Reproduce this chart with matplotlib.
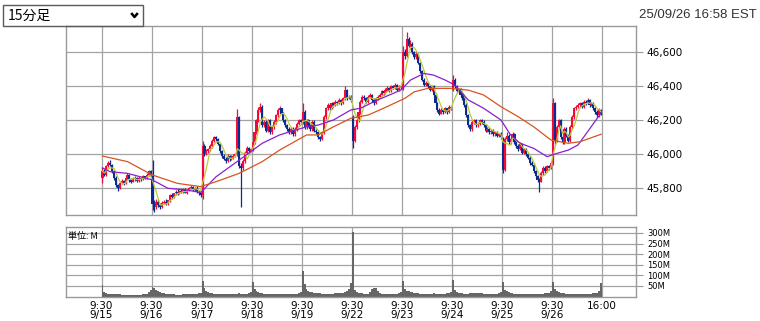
import numpy as np
import pandas as pd
import matplotlib
matplotlib.use("Agg")
import matplotlib.pyplot as plt
from matplotlib.patches import Rectangle
from matplotlib.lines import Line2D

days = ["9/15", "9/16", "9/17", "9/18", "9/19", "9/22", "9/23", "9/24", "9/25", "9/26"]
bars_per_day = 26  # 15-minute bars, 9:30-16:00

# first open of each session (other opens = previous close)
day_open = [45860, 45870, 45760, 46030, 46190, 46220, 46390, 46380, 46090, 45950]

close = [
    45900, 45880, 45930, 45950, 45940, 45900, 45860, 45820, 45800, 45830, 45845, 45830, 45860,
    45880, 45850, 45840, 45855, 45860, 45845, 45860, 45855, 45870, 45860, 45880, 45900, 45870,
    45710, 45690, 45720, 45700, 45690, 45715, 45720, 45710, 45730, 45760, 45750, 45770, 45780,
    45770, 45785, 45780, 45790, 45775, 45790, 45800, 45810, 45790, 45800, 45780, 45770, 45760,
    46050, 46000, 46020, 46030, 46050, 46080, 46100, 46090, 46060, 46020, 45990, 45975, 45960,
    45990, 45970, 45985, 45990, 46000, 46220, 45930, 45920, 45960, 46010, 46040, 46020, 46030,
    46070, 46130, 46200, 46260, 46280, 46170, 46190, 46140, 46200, 46130, 46160, 46190, 46230,
    46260, 46270, 46240, 46200, 46170, 46150, 46130, 46150, 46120, 46150, 46180, 46200, 46190,
    46250, 46160, 46200, 46170, 46150, 46190, 46140, 46130, 46100, 46090, 46130, 46220, 46270,
    46290, 46270, 46300, 46290, 46310, 46300, 46320, 46300, 46330, 46380, 46330, 46340, 46320,
    46080, 46160, 46200, 46250, 46310, 46340, 46330, 46310, 46340, 46350, 46320, 46300, 46330,
    46340, 46350, 46370, 46360, 46380, 46390, 46370, 46400, 46390, 46410, 46380, 46400, 46390,
    46600, 46580, 46680, 46640, 46650, 46600, 46570, 46590, 46540, 46490, 46440, 46410, 46420,
    46400, 46380, 46400, 46350, 46300, 46260, 46240, 46260, 46250, 46270, 46250, 46280, 46270,
    46440, 46400, 46370, 46380, 46350, 46330, 46290, 46230, 46170, 46150, 46190, 46200, 46170,
    46180, 46200, 46190, 46170, 46140, 46150, 46130, 46140, 46120, 46130, 46110, 46120, 46100,
    45910, 46090, 46110, 46070, 46090, 46120, 46070, 46050, 46030, 46060, 46010, 46030, 46000,
    45980, 45950, 45940, 45900, 45870, 45850, 45840, 45890, 45920, 45900, 45930, 45920, 45950,
    46300, 46080, 46160, 46200, 46100, 46070, 46150, 46110, 46080, 46160, 46220, 46270, 46280,
    46290, 46300, 46280, 46310, 46300, 46320, 46290, 46300, 46270, 46250, 46230, 46260, 46240,
]

high = [
    45925, 45915, 45940, 45960, 45965, 45945, 45905, 45870, 45825, 45840, 45855, 45850, 45870,
    45890, 45885, 45860, 45865, 45870, 45865, 45870, 45865, 45880, 45875, 45890, 45910, 45905,
    45966, 45730, 45735, 45730, 45715, 45725, 45730, 45735, 45725, 45765, 45770, 45775, 45790,
    45795, 45790, 45795, 45800, 45800, 45795, 45810, 45820, 45815, 45810, 45815, 45790, 45780,
    46080, 46060, 46030, 46040, 46060, 46090, 46110, 46105, 46095, 46065, 46025, 46000, 45985,
    46000, 45995, 45995, 46000, 46010, 46265, 46225, 45950, 45970, 46020, 46050, 46045, 46040,
    46080, 46140, 46210, 46280, 46300, 46290, 46200, 46200, 46210, 46210, 46170, 46200, 46240,
    46270, 46285, 46275, 46250, 46210, 46180, 46160, 46160, 46160, 46160, 46190, 46210, 46210,
    46300, 46260, 46210, 46210, 46180, 46200, 46200, 46150, 46140, 46110, 46140, 46230, 46280,
    46300, 46295, 46310, 46305, 46320, 46315, 46330, 46325, 46340, 46400, 46385, 46350, 46350,
    46230, 46170, 46210, 46260, 46320, 46350, 46350, 46340, 46350, 46360, 46355, 46330, 46340,
    46350, 46360, 46380, 46375, 46390, 46400, 46395, 46410, 46405, 46420, 46415, 46410, 46405,
    46640, 46620, 46720, 46690, 46670, 46660, 46610, 46600, 46595, 46545, 46495, 46450, 46430,
    46425, 46410, 46410, 46405, 46360, 46310, 46270, 46270, 46265, 46280, 46275, 46290, 46285,
    46465, 46450, 46410, 46390, 46390, 46360, 46340, 46300, 46240, 46180, 46200, 46210, 46210,
    46190, 46210, 46210, 46200, 46180, 46160, 46160, 46150, 46150, 46140, 46140, 46125, 46130,
    46100, 46100, 46130, 46120, 46100, 46130, 46125, 46080, 46060, 46070, 46065, 46040, 46040,
    46010, 45990, 45960, 45950, 45910, 45880, 45860, 45900, 45930, 45930, 45940, 45940, 45960,
    46330, 46310, 46170, 46210, 46210, 46110, 46160, 46160, 46120, 46170, 46230, 46280, 46290,
    46300, 46310, 46310, 46320, 46320, 46330, 46325, 46310, 46305, 46280, 46260, 46270, 46265,
]

low = [
    45830, 45870, 45870, 45925, 45930, 45890, 45850, 45810, 45785, 45795, 45825, 45820, 45825,
    45850, 45840, 45830, 45835, 45845, 45835, 45840, 45845, 45850, 45855, 45855, 45875, 45860,
    45670, 45660, 45680, 45690, 45680, 45685, 45705, 45700, 45700, 45720, 45740, 45745, 45760,
    45760, 45765, 45770, 45775, 45770, 45765, 45785, 45795, 45785, 45785, 45775, 45760, 45750,
    45740, 45990, 45995, 46010, 46020, 46040, 46070, 46080, 46055, 46010, 45980, 45965, 45950,
    45955, 45960, 45965, 45975, 45985, 45990, 45920, 45690, 45910, 45950, 46000, 46010, 46015,
    46020, 46060, 46120, 46190, 46250, 46160, 46160, 46130, 46130, 46120, 46120, 46150, 46180,
    46220, 46250, 46230, 46190, 46160, 46140, 46120, 46120, 46110, 46110, 46140, 46170, 46180,
    46180, 46150, 46150, 46160, 46140, 46140, 46130, 46120, 46090, 46080, 46085, 46120, 46210,
    46260, 46260, 46265, 46280, 46285, 46290, 46295, 46290, 46295, 46320, 46320, 46325, 46310,
    46035, 46070, 46150, 46190, 46240, 46300, 46320, 46300, 46300, 46330, 46310, 46290, 46295,
    46320, 46335, 46345, 46350, 46355, 46375, 46365, 46365, 46385, 46385, 46375, 46375, 46385,
    46380, 46560, 46570, 46630, 46620, 46590, 46560, 46560, 46530, 46480, 46430, 46400, 46400,
    46390, 46370, 46370, 46340, 46290, 46250, 46230, 46235, 46240, 46245, 46240, 46245, 46260,
    46370, 46390, 46360, 46360, 46340, 46320, 46280, 46220, 46160, 46135, 46140, 46180, 46160,
    46160, 46170, 46180, 46160, 46130, 46130, 46120, 46120, 46110, 46110, 46100, 46100, 46090,
    45890, 45900, 46080, 46060, 46060, 46080, 46060, 46040, 46020, 46025, 46000, 46000, 45990,
    45970, 45940, 45930, 45890, 45860, 45840, 45780, 45835, 45880, 45890, 45895, 45910, 45915,
    45940, 46060, 46070, 46150, 46090, 46060, 46060, 46100, 46070, 46075, 46150, 46210, 46260,
    46275, 46280, 46270, 46270, 46290, 46295, 46280, 46285, 46260, 46240, 46220, 46220, 46230,
]

# volume, millions of shares
volume = [
    55, 22, 16, 14, 13, 12, 11, 11, 10, 10, 9, 9, 9, 9, 8, 8, 8, 9, 9, 9, 9, 10, 10, 11, 20, 30,
    45, 40, 33, 25, 20, 17, 15, 13, 12, 11, 10, 10, 9, 9, 9, 9, 10, 10, 10, 10, 11, 11, 12, 13, 15, 18,
    73, 40, 25, 20, 17, 15, 14, 13, 12, 12, 11, 11, 11, 12, 13, 14, 13, 12, 14, 16, 13, 12, 12, 13, 15, 20,
    68, 35, 25, 20, 17, 15, 14, 13, 12, 11, 11, 10, 10, 10, 11, 11, 10, 10, 10, 11, 11, 12, 12, 14, 16, 22,
    120, 60, 35, 28, 22, 19, 17, 16, 15, 15, 14, 14, 14, 13, 13, 14, 14, 15, 15, 16, 17, 18, 20, 24, 35, 64,
    305, 30, 22, 18, 16, 15, 14, 14, 13, 20, 35, 40, 38, 28, 18, 13, 12, 12, 11, 11, 11, 12, 12, 13, 15, 20,
    73, 35, 28, 25, 22, 20, 18, 16, 15, 14, 14, 13, 13, 13, 13, 12, 18, 12, 12, 13, 13, 13, 14, 15, 18, 22,
    79, 30, 22, 18, 16, 15, 14, 14, 13, 16, 16, 16, 15, 16, 16, 15, 14, 13, 12, 12, 12, 12, 13, 13, 15, 20,
    68, 32, 24, 20, 17, 15, 14, 13, 12, 12, 12, 11, 11, 11, 12, 12, 12, 13, 13, 13, 14, 14, 15, 16, 18, 25,
    68, 35, 25, 20, 17, 16, 15, 14, 13, 13, 13, 12, 12, 12, 12, 12, 12, 13, 13, 14, 14, 15, 16, 18, 25, 63,
]

# moving averages (bar index, price)
mid_ma_idx = [0, 4, 13, 26, 34, 44, 51, 59, 71, 83, 92, 106, 112, 120, 129, 134, 143, 155,
              160, 167, 172, 178, 183, 190, 198, 207, 212, 217, 224, 231, 235, 242, 247, 252, 257, 259]
mid_ma = [45920, 45898, 45888, 45849, 45800, 45790, 45775, 45868, 45966, 46065, 46114, 46162,
          46172, 46202, 46261, 46271, 46320, 46378, 46437, 46476, 46466, 46437, 46408, 46320,
          46271, 46202, 46114, 46065, 46035, 45986, 46002, 46025, 46055, 46133, 46212, 46241]
long_ma_idx = [0, 13, 26, 39, 51, 59, 71, 83, 92, 106, 112, 120, 129, 138, 146, 157, 162, 169,
               181, 190, 198, 207, 216, 224, 233, 242, 248, 259]
long_ma = [45990, 45957, 45878, 45829, 45810, 45839, 45888, 45957, 46025, 46114, 46114, 46162,
           46212, 46231, 46271, 46329, 46368, 46388, 46388, 46378, 46349, 46280, 46221, 46162,
           46084, 46065, 46074, 46118]

price_ticks = [45800, 46000, 46200, 46400, 46600]
vol_ticks = [50, 100, 150, 200, 250, 300]

UP = "#f5083a"
DOWN = "#0a2c8c"
GRID = "#a3a3a3"
FRAME = "#999999"

plt.rcParams["font.family"] = ["DejaVu Sans"]

n = len(close)
opens = []
for i in range(n):
    if i % bars_per_day == 0:
        opens.append(day_open[i // bars_per_day])
    else:
        opens.append(close[i - 1])
opens = np.array(opens)
close_a = np.array(close)
x = np.arange(n) + 0.5
up = close_a >= opens
colors = np.where(up, UP, DOWN)

fig = plt.figure(figsize=(7.6, 3.21), dpi=100)
W, H = 760, 321
ax = fig.add_axes([65.5 / W, 1 - 215 / H, 571 / W, 189 / H])
axv = fig.add_axes([65.5 / W, 1 - 296.5 / H, 571 / W, 69.5 / H])

xlim = (-18.7, n + 17.9)
day_edges = [k * bars_per_day for k in range(len(days) + 1)]

for a in (ax, axv):
    a.set_xlim(*xlim)
    a.set_xticks(day_edges)
    a.grid(True, color=GRID, lw=0.9)
    a.set_axisbelow(True)
    for s in a.spines.values():
        s.set_color(FRAME)
        s.set_linewidth(1.0)
    a.yaxis.tick_right()
    a.tick_params(axis="y", direction="out", length=5, color=FRAME, pad=2.5)
    a.tick_params(axis="x", length=0)

# candles
ax.vlines(x, low, high, colors=colors, lw=0.9, zorder=2)
body = np.abs(close_a - opens)
body = np.where(body < 4, 4, body)
ax.bar(x, body, bottom=np.minimum(opens, close_a), width=1.1, color=colors, linewidth=0, zorder=3)

short_ma = pd.Series(close).rolling(5, min_periods=1).mean()
ax.plot(x, short_ma, color="#bccb3a", lw=0.9, zorder=4)
ax.plot(np.array(mid_ma_idx) + 0.5, mid_ma, color="#8a1fd0", lw=0.9, zorder=5)
ax.plot(np.array(long_ma_idx) + 0.5, long_ma, color="#d9531e", lw=0.9, zorder=5)

ax.set_ylim(45643, 46755)
ax.set_yticks(price_ticks)
ax.set_yticklabels([f"{v:,}" for v in price_ticks], fontsize=7.5)
ax.tick_params(axis="x", labelbottom=False)

# volume
axv.bar(x, volume, width=1.0, color="#666666", linewidth=0, zorder=2)
axv.set_ylim(0, 328)
axv.set_yticks(vol_ticks)
axv.set_yticklabels([f"{v}M" for v in vol_ticks], fontsize=6)
axv.set_xticklabels([f"9:30\n{d}" for d in days] + ["16:00"], fontsize=7.5, linespacing=0.95)
axv.tick_params(axis="x", pad=3)
axv.text(0.005, 0.87, "単位: M", transform=axv.transAxes, fontsize=6.5,
         family=["Noto Sans CJK JP", "DejaVu Sans"], va="center", ha="left")

# header: period selector and timestamp
fig.patches.append(Rectangle((3.5 / W, 1 - 25.5 / H), 139.5 / W, 20.5 / H, transform=fig.transFigure,
                             fill=False, edgecolor="#5a5a5a", lw=1.0))
fig.text(8 / W, 1 - 15.5 / H, "15分足", fontsize=10, va="center", ha="left",
         family=["Noto Sans CJK JP", "DejaVu Sans"])
fig.lines.append(Line2D([132 / W, 134.5 / W, 137 / W], [1 - 14 / H, 1 - 17 / H, 1 - 14 / H],
                        transform=fig.transFigure, color="black", lw=1.8))
fig.text(757 / W, 1 - 15 / H, "25/09/26 16:58 EST", fontsize=9.5, va="center", ha="right",
         family="Liberation Sans", color="#333333")

fig.savefig("out.png", dpi=100)
